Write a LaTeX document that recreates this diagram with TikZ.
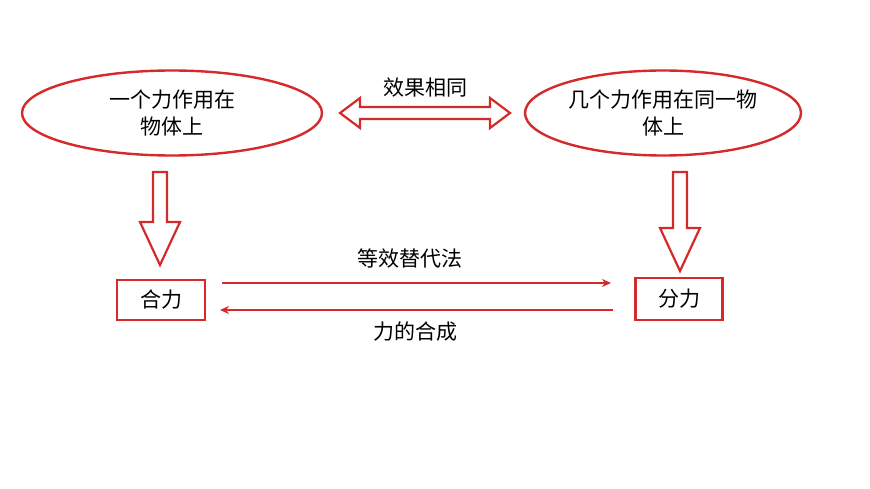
\documentclass[tikz,border=0pt]{standalone}
\usepackage{fontspec}
\newfontfamily\cjk{Noto Sans CJK SC}
\usetikzlibrary{shapes.geometric,arrows.meta}
\definecolor{rr}{HTML}{D42A2A}
\begin{document}
\begin{tikzpicture}[x=1pt,y=-1pt,font=\cjk\fontsize{21}{27}\selectfont,
  ell/.style={ellipse,draw=rr,line width=2.4pt,minimum width=300pt,minimum height=85pt,align=center,inner sep=0pt},
  bx/.style={draw=rr,line width=2.4pt,minimum width=88pt,minimum height=40pt},
  hol/.style={draw=rr,line width=2.2pt,fill=white,line join=miter},
  thin/.style={draw=rr,line width=2pt,-{Stealth[length=9pt,width=8pt]}}]
\useasboundingbox (0,0) rectangle (870,489);
\node[ell] (L) at (172,113) {一个力作用在\\物体上};
\node[ell,minimum width=276pt] (R) at (663,113) {几个力作用在同一物\\体上};
\node[bx] (H) at (161,300) {合力};
\node[bx,minimum width=87pt,minimum height=42pt] (F) at (679,299) {分力};
\node (t1) at (425,88) {效果相同};
\node (t2) at (410,258) {等效替代法};
\node (t3) at (415,332) {力的合成};
\draw[hol] (340,113) -- (360,98) -- (360,107) -- (490,107) -- (490,98) -- (510,113) -- (490,128) -- (490,119) -- (360,119) -- (360,128) -- cycle;
\draw[hol] (153,172) -- (167,172) -- (167,222) -- (180,222) -- (160,265) -- (140,222) -- (153,222) -- cycle;
\draw[hol] (673,172) -- (687,172) -- (687,228) -- (700,228) -- (680,271) -- (660,228) -- (673,228) -- cycle;
\coordinate (a1) at (222,283); \coordinate (a2) at (611,283);
\coordinate (b1) at (613,310); \coordinate (b2) at (220,310);
\draw[thin] (a1) -- (a2);
\draw[thin] (b1) -- (b2);
\end{tikzpicture}
\end{document}
